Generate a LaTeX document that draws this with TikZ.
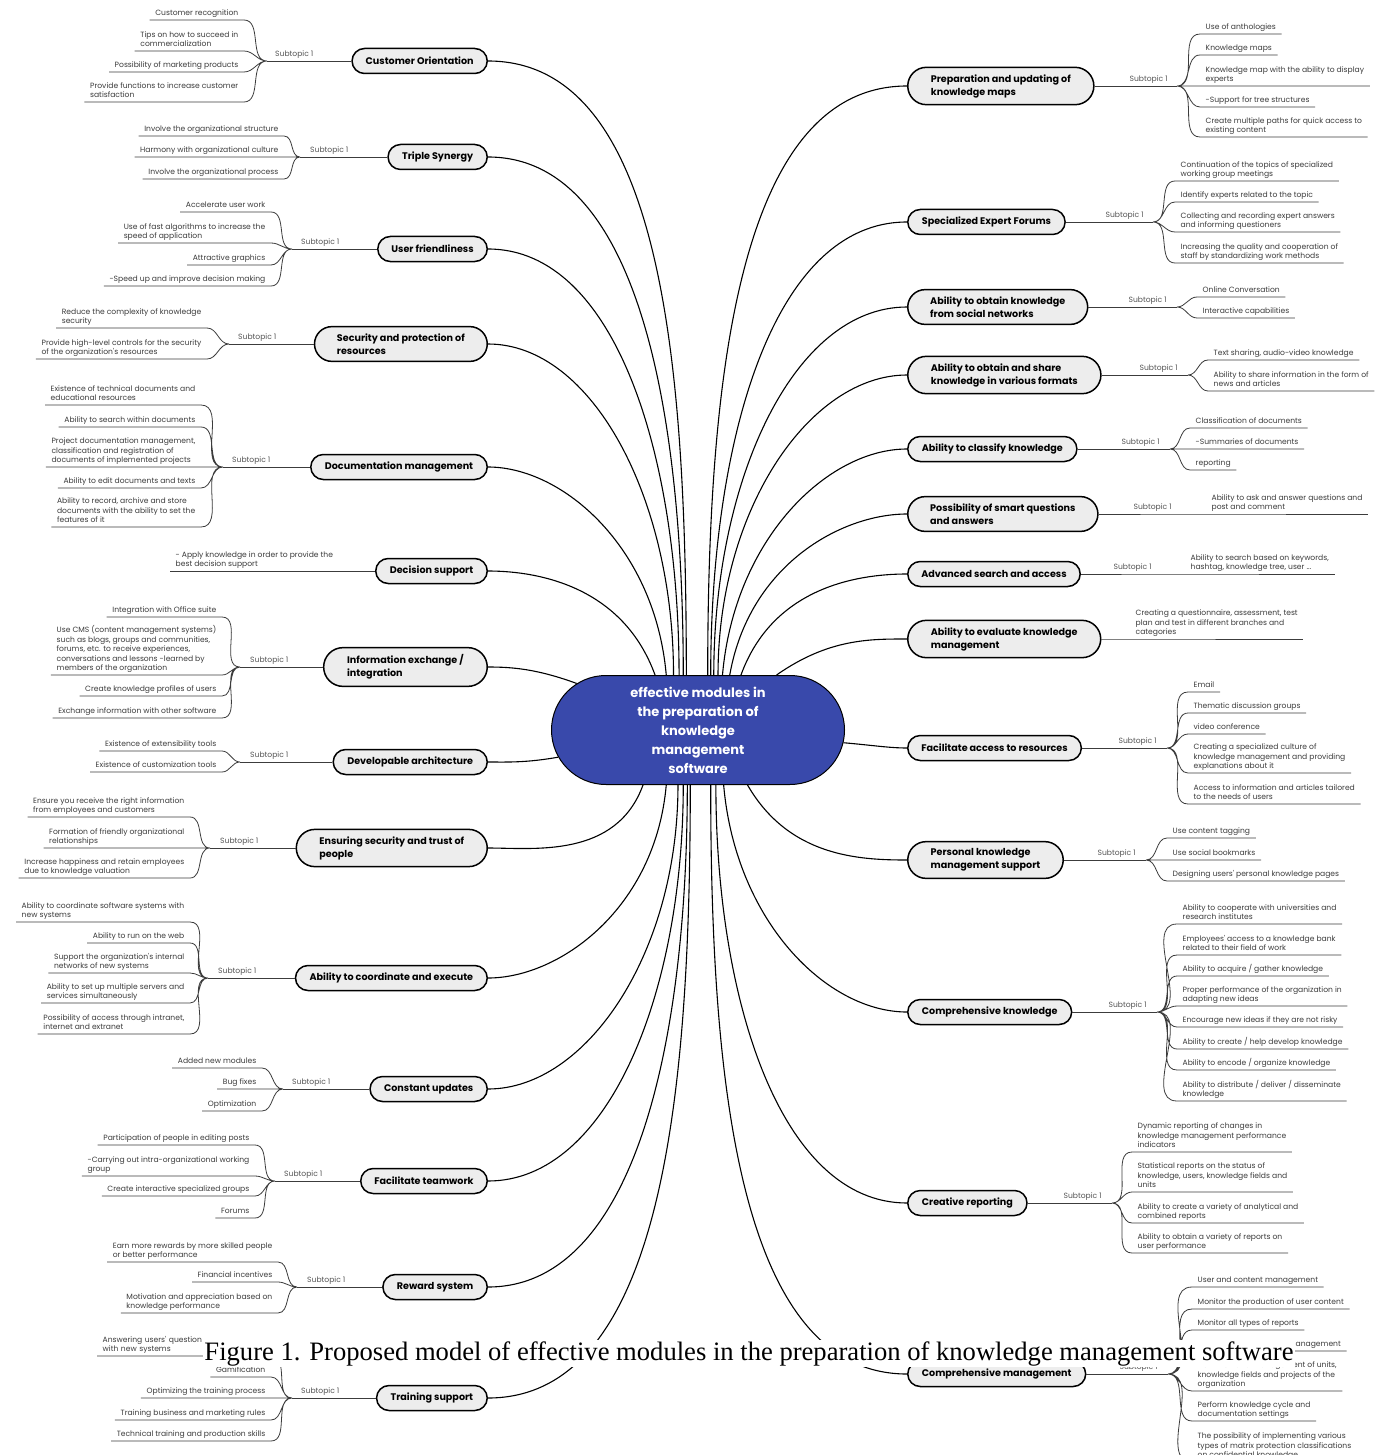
\documentclass[tikz,border=0pt]{standalone}
\usepackage{fontspec}
\usepackage{tikz}
\usetikzlibrary{positioning, shapes.misc}
\newfontfamily\mapfont{Poppins}
\newfontfamily\capfont{Liberation Serif}
\definecolor{hubblue}{HTML}{3949AB}
\definecolor{topicgray}{HTML}{EDEDED}
\definecolor{leafgray}{HTML}{3C3C3C}
\definecolor{subgray}{HTML}{555555}

\begin{document}
\begin{tikzpicture}[x=1pt, y=1pt,
    hub/.style={rounded rectangle, draw=black, line width=1pt, fill=hubblue, text=white,
                font=\mapfont\fontsize{13}{19}\selectfont\bfseries, align=center,
                minimum width=293pt, minimum height=109pt, inner xsep=0pt},
    topic/.style={rounded rectangle, draw=black, line width=1.5pt, fill=topicgray,
                  font=\mapfont\fontsize{9.6}{13}\selectfont\bfseries, align=left,
                  minimum height=25pt, inner xsep=13pt, inner ysep=7pt},
    twoline/.style={inner xsep=19pt},
    leaf/.style={font=\mapfont\fontsize{7.6}{9.4}\selectfont, text=leafgray, align=left,
                 inner xsep=5.5pt, inner ysep=1.5pt, execute at end node=\strut},
    subtag/.style={font=\mapfont\fontsize{7.6}{9.4}\selectfont, text=subgray, inner sep=1pt},
    trunk/.style={line width=1.1pt, black, out looseness=0.7, in looseness=1.2},
    twig/.style={line width=0.8pt, leafgray},
    figcap/.style={font=\capfont\fontsize{26.6}{31}\selectfont, fill=white, inner sep=1pt, anchor=base},
]
    \path[use as bounding box, fill=white] (0,0) rectangle (1391,-1455);

    % Centre
    \node[hub] (hub) at (698,-730) {effective modules in\\the preparation of\\knowledge\\management\\software};

    % Customer Orientation
    \node[topic, anchor=east] (co) at (488,-61) {Customer Orientation};
    \coordinate (cofork) at (267,-61);
    \node[subtag, above right=1.5pt and 7pt of cofork] (cosub) {Subtopic 1};
    \node[leaf, anchor=south east] (co1) at (244,-20) {Customer recognition};
    \node[leaf, anchor=south east] (co2) at (244,-51) {Tips on how to succeed in\\commercialization};
    \node[leaf, anchor=south east] (co3) at (244,-72) {Possibility of marketing products};
    \node[leaf, anchor=south east] (co4) at (244,-102) {Provide functions to increase customer\\satisfaction};
    \draw[twig] (co.west) -- (cofork);
    \draw[twig] (cofork) to[out=180,in=0] (co1.south east) -- (co1.south west)
                (cofork) to[out=180,in=0] (co2.south east) -- (co2.south west)
                (cofork) to[out=180,in=0] (co3.south east) -- (co3.south west)
                (cofork) to[out=180,in=0] (co4.south east) -- (co4.south west);

    % Triple Synergy
    \node[topic, anchor=east] (ts) at (488,-157) {Triple Synergy};
    \coordinate (tsfork) at (300,-157);
    \node[subtag, above right=1.5pt and 9pt of tsfork] (tssub) {Subtopic 1};
    \node[leaf, anchor=south east] (ts1) at (284,-136) {Involve the organizational structure};
    \node[leaf, anchor=south east] (ts2) at (284,-157) {Harmony with organizational culture};
    \node[leaf, anchor=south east] (ts3) at (284,-179) {Involve the organizational process};
    \draw[twig] (ts.west) -- (tsfork);
    \draw[twig] (tsfork) to[out=180,in=0] (ts1.south east) -- (ts1.south west)
                (tsfork) to[out=180,in=0] (ts2.south east) -- (ts2.south west)
                (tsfork) to[out=180,in=0] (ts3.south east) -- (ts3.south west);

    % User friendliness
    \node[topic, anchor=east] (uf) at (488,-249) {User friendliness};
    \coordinate (uffork) at (292,-249);
    \node[subtag, above right=1.5pt and 8pt of uffork] (ufsub) {Subtopic 1};
    \node[leaf, anchor=south east] (uf1) at (271,-212) {Accelerate user work};
    \node[leaf, anchor=south east] (uf2) at (271,-243) {Use of fast algorithms to increase the\\speed of application};
    \node[leaf, anchor=south east] (uf3) at (271,-265) {Attractive graphics};
    \node[leaf, anchor=south east] (uf4) at (271,-286) {-Speed up and improve decision making};
    \draw[twig] (uf.west) -- (uffork);
    \draw[twig] (uffork) to[out=180,in=0] (uf1.south east) -- (uf1.south west)
                (uffork) to[out=180,in=0] (uf2.south east) -- (uf2.south west)
                (uffork) to[out=180,in=0] (uf3.south east) -- (uf3.south west)
                (uffork) to[out=180,in=0] (uf4.south east) -- (uf4.south west);

    % Security and protection of resources
    \node[topic, twoline, anchor=east] (sp) at (488,-344) {Security and protection of\\resources};
    \coordinate (spfork) at (229,-344);
    \node[subtag, above right=1.5pt and 8pt of spfork] (spsub) {Subtopic 1};
    \node[leaf, anchor=south east] (sp1) at (207,-328) {Reduce the complexity of knowledge\\security};
    \node[leaf, anchor=south east] (sp2) at (207,-359) {Provide high-level controls for the security\\of the organization's resources};
    \draw[twig] (sp.west) -- (spfork);
    \draw[twig] (spfork) to[out=180,in=0] (sp1.south east) -- (sp1.south west)
                (spfork) to[out=180,in=0] (sp2.south east) -- (sp2.south west);

    % Documentation management
    \node[topic, anchor=east] (dm) at (488,-467) {Documentation management};
    \coordinate (dmfork) at (223,-467);
    \node[subtag, above right=1.5pt and 8pt of dmfork] (dmsub) {Subtopic 1};
    \node[leaf, anchor=south east] (dm1) at (201,-405) {Existence of technical documents and\\educational resources};
    \node[leaf, anchor=south east] (dm2) at (201,-427) {Ability to search within documents};
    \node[leaf, anchor=south east] (dm3) at (201,-467) {Project documentation management,\\classification and registration of\\documents of implemented projects};
    \node[leaf, anchor=south east] (dm4) at (201,-488) {Ability to edit documents and texts};
    \node[leaf, anchor=south east] (dm5) at (201,-527) {Ability to record, archive and store\\documents with the ability to set the\\features of it};
    \draw[twig] (dm.west) -- (dmfork);
    \draw[twig] (dmfork) to[out=180,in=0] (dm1.south east) -- (dm1.south west)
                (dmfork) to[out=180,in=0] (dm2.south east) -- (dm2.south west)
                (dmfork) to[out=180,in=0] (dm3.south east) -- (dm3.south west)
                (dmfork) to[out=180,in=0] (dm4.south east) -- (dm4.south west)
                (dmfork) to[out=180,in=0] (dm5.south east) -- (dm5.south west);

    % Decision support
    \node[topic, anchor=east] (ds) at (488,-571) {Decision support};
    \node[leaf, anchor=south west] (ds1) at (170,-571) {- Apply knowledge in order to provide the\\best decision support};
    \draw[twig] (ds1.south west) -- (ds.west);

    % Information exchange / integration
    \node[topic, twoline, anchor=east] (ie) at (488,-667) {Information exchange /\\integration};
    \coordinate (iefork) at (240,-667);
    \node[subtag, above right=1.5pt and 9pt of iefork] (iesub) {Subtopic 1};
    \node[leaf, anchor=south east] (ie1) at (222,-617) {Integration with Office suite};
    \node[leaf, anchor=south east] (ie2) at (222,-675) {Use CMS (content management systems)\\such as blogs, groups and communities,\\forums, etc. to receive experiences,\\conversations and lessons -learned by\\members of the organization};
    \node[leaf, anchor=south east] (ie3) at (222,-696) {Create knowledge profiles of users};
    \node[leaf, anchor=south east] (ie4) at (222,-718) {Exchange information with other software};
    \draw[twig] (ie.west) -- (iefork);
    \draw[twig] (iefork) to[out=180,in=0] (ie1.south east) -- (ie1.south west)
                (iefork) to[out=180,in=0] (ie2.south east) -- (ie2.south west)
                (iefork) to[out=180,in=0] (ie3.south east) -- (ie3.south west)
                (iefork) to[out=180,in=0] (ie4.south east) -- (ie4.south west);

    % Developable architecture
    \node[topic, anchor=east] (da) at (488,-762) {Developable architecture};
    \coordinate (dafork) at (240,-762);
    \node[subtag, above right=1.5pt and 9pt of dafork] (dasub) {Subtopic 1};
    \node[leaf, anchor=south east] (da1) at (222,-751) {Existence of extensibility tools};
    \node[leaf, anchor=south east] (da2) at (222,-772) {Existence of customization tools};
    \draw[twig] (da.west) -- (dafork);
    \draw[twig] (dafork) to[out=180,in=0] (da1.south east) -- (da1.south west)
                (dafork) to[out=180,in=0] (da2.south east) -- (da2.south west);

    % Ensuring security and trust of people
    \node[topic, twoline, anchor=east] (es) at (488,-848) {Ensuring security and trust of\\people};
    \coordinate (esfork) at (210,-848);
    \node[subtag, above right=1.5pt and 9pt of esfork] (essub) {Subtopic 1};
    \node[leaf, anchor=south east] (es1) at (190,-817) {Ensure you receive the right information\\from employees and customers};
    \node[leaf, anchor=south east] (es2) at (190,-848) {Formation of friendly organizational\\relationships};
    \node[leaf, anchor=south east] (es3) at (190,-878) {Increase happiness and retain employees\\due to knowledge valuation};
    \draw[twig] (es.west) -- (esfork);
    \draw[twig] (esfork) to[out=180,in=0] (es1.south east) -- (es1.south west)
                (esfork) to[out=180,in=0] (es2.south east) -- (es2.south west)
                (esfork) to[out=180,in=0] (es3.south east) -- (es3.south west);

    % Ability to coordinate and execute
    \node[topic, anchor=east] (ac) at (488,-978) {Ability to coordinate and execute};
    \coordinate (acfork) at (208,-978);
    \node[subtag, above right=1.5pt and 9pt of acfork] (acsub) {Subtopic 1};
    \node[leaf, anchor=south east] (ac1) at (190,-922) {Ability to coordinate software systems with\\new systems};
    \node[leaf, anchor=south east] (ac2) at (190,-943) {Ability to run on the web};
    \node[leaf, anchor=south east] (ac3) at (190,-973) {Support the organization's internal\\networks of new systems};
    \node[leaf, anchor=south east] (ac4) at (190,-1003) {Ability to set up multiple servers and\\services simultaneously};
    \node[leaf, anchor=south east] (ac5) at (190,-1034) {Possibility of access through intranet,\\internet and extranet};
    \draw[twig] (ac.west) -- (acfork);
    \draw[twig] (acfork) to[out=180,in=0] (ac1.south east) -- (ac1.south west)
                (acfork) to[out=180,in=0] (ac2.south east) -- (ac2.south west)
                (acfork) to[out=180,in=0] (ac3.south east) -- (ac3.south west)
                (acfork) to[out=180,in=0] (ac4.south east) -- (ac4.south west)
                (acfork) to[out=180,in=0] (ac5.south east) -- (ac5.south west);

    % Constant updates
    \node[topic, anchor=east] (cu) at (488,-1089) {Constant updates};
    \coordinate (cufork) at (283,-1089);
    \node[subtag, above right=1.5pt and 8pt of cufork] (cusub) {Subtopic 1};
    \node[leaf, anchor=south east] (cu1) at (262,-1068) {Added new modules};
    \node[leaf, anchor=south east] (cu2) at (262,-1089) {Bug fixes};
    \node[leaf, anchor=south east] (cu3) at (262,-1111) {Optimization};
    \draw[twig] (cu.west) -- (cufork);
    \draw[twig] (cufork) to[out=180,in=0] (cu1.south east) -- (cu1.south west)
                (cufork) to[out=180,in=0] (cu2.south east) -- (cu2.south west)
                (cufork) to[out=180,in=0] (cu3.south east) -- (cu3.south west);

    % Facilitate teamwork
    \node[topic, anchor=east] (ft) at (488,-1181) {Facilitate teamwork};
    \coordinate (ftfork) at (275,-1181);
    \node[subtag, above right=1.5pt and 8pt of ftfork] (ftsub) {Subtopic 1};
    \node[leaf, anchor=south east] (ft1) at (255,-1145) {Participation of people in editing posts};
    \node[leaf, anchor=south east] (ft2) at (255,-1176) {-Carrying out intra-organizational working\\group};
    \node[leaf, anchor=south east] (ft3) at (255,-1196) {Create interactive specialized groups};
    \node[leaf, anchor=south east] (ft4) at (255,-1218) {Forums};
    \draw[twig] (ft.west) -- (ftfork);
    \draw[twig] (ftfork) to[out=180,in=0] (ft1.south east) -- (ft1.south west)
                (ftfork) to[out=180,in=0] (ft2.south east) -- (ft2.south west)
                (ftfork) to[out=180,in=0] (ft3.south east) -- (ft3.south west)
                (ftfork) to[out=180,in=0] (ft4.south east) -- (ft4.south west);

    % Reward system
    \node[topic, anchor=east] (rs) at (488,-1287) {Reward system};
    \coordinate (rsfork) at (297,-1287);
    \node[subtag, above right=1.5pt and 9pt of rsfork] (rssub) {Subtopic 1};
    \node[leaf, anchor=south east] (rs1) at (278,-1262) {Earn more rewards by more skilled people\\or better performance};
    \node[leaf, anchor=south east] (rs2) at (278,-1282) {Financial incentives};
    \node[leaf, anchor=south east] (rs3) at (278,-1313) {Motivation and appreciation based on\\knowledge performance};
    \draw[twig] (rs.west) -- (rsfork);
    \draw[twig] (rsfork) to[out=180,in=0] (rs1.south east) -- (rs1.south west)
                (rsfork) to[out=180,in=0] (rs2.south east) -- (rs2.south west)
                (rsfork) to[out=180,in=0] (rs3.south east) -- (rs3.south west);

    % Training support
    \node[topic, anchor=east] (trs) at (488,-1398) {Training support};
    \coordinate (trsfork) at (292,-1398);
    \node[subtag, above right=1.5pt and 8pt of trsfork] (trssub) {Subtopic 1};
    \node[leaf, anchor=south west, text width=163pt] (trs1) at (97,-1356) {Answering users' question\\with new systems};
    \node[leaf, anchor=south east] (trs2) at (271,-1377) {Gamification};
    \node[leaf, anchor=south east] (trs3) at (271,-1398) {Optimizing the training process};
    \node[leaf, anchor=south east] (trs4) at (271,-1420) {Training business and marketing rules};
    \node[leaf, anchor=south east] (trs5) at (271,-1441) {Technical training and production skills};
    \draw[twig] (trs.west) -- (trsfork);
    \draw[twig] (trsfork) to[out=180,in=0] (trs1.south east) -- (trs1.south west)
                (trsfork) to[out=180,in=0] (trs2.south east) -- (trs2.south west)
                (trsfork) to[out=180,in=0] (trs3.south east) -- (trs3.south west)
                (trsfork) to[out=180,in=0] (trs4.south east) -- (trs4.south west)
                (trsfork) to[out=180,in=0] (trs5.south east) -- (trs5.south west);

    % Preparation and updating of knowledge maps
    \node[topic, twoline, anchor=west] (pu) at (907,-86) {Preparation and updating of\\knowledge maps};
    \coordinate (pufork) at (1177,-86);
    \node[subtag, above left=1.5pt and 8pt of pufork] (pusub) {Subtopic 1};
    \node[leaf, anchor=south west] (pu1) at (1200,-34) {Use of anthologies};
    \node[leaf, anchor=south west] (pu2) at (1200,-55) {Knowledge maps};
    \node[leaf, anchor=south west] (pu3) at (1200,-86) {Knowledge map with the ability to display\\experts};
    \node[leaf, anchor=south west] (pu4) at (1200,-107) {-Support for tree structures};
    \node[leaf, anchor=south west] (pu5) at (1200,-137) {Create multiple paths for quick access to\\existing content};
    \draw[twig] (pu.east) -- (pufork);
    \draw[twig] (pufork) to[out=0,in=180] (pu1.south west) -- (pu1.south east)
                (pufork) to[out=0,in=180] (pu2.south west) -- (pu2.south east)
                (pufork) to[out=0,in=180] (pu3.south west) -- (pu3.south east)
                (pufork) to[out=0,in=180] (pu4.south west) -- (pu4.south east)
                (pufork) to[out=0,in=180] (pu5.south west) -- (pu5.south east);

    % Specialized Expert Forums
    \node[topic, anchor=west] (se) at (907,-222) {Specialized Expert Forums};
    \coordinate (sefork) at (1153,-222);
    \node[subtag, above left=1.5pt and 8pt of sefork] (sesub) {Subtopic 1};
    \node[leaf, anchor=south west] (se1) at (1175,-181) {Continuation of the topics of specialized\\working group meetings};
    \node[leaf, anchor=south west] (se2) at (1175,-202) {Identify experts related to the topic};
    \node[leaf, anchor=south west] (se3) at (1175,-232) {Collecting and recording expert answers\\and informing questioners};
    \node[leaf, anchor=south west] (se4) at (1175,-263) {Increasing the quality and cooperation of\\staff by standardizing work methods};
    \draw[twig] (se.east) -- (sefork);
    \draw[twig] (sefork) to[out=0,in=180] (se1.south west) -- (se1.south east)
                (sefork) to[out=0,in=180] (se2.south west) -- (se2.south east)
                (sefork) to[out=0,in=180] (se3.south west) -- (se3.south east)
                (sefork) to[out=0,in=180] (se4.south west) -- (se4.south east);

    % Ability to obtain knowledge from social networks
    \node[topic, twoline, anchor=west] (sn) at (907,-307) {Ability to obtain knowledge\\from social networks};
    \coordinate (snfork) at (1177,-307);
    \node[subtag, above left=1.5pt and 9pt of snfork] (snsub) {Subtopic 1};
    \node[leaf, anchor=south west] (sn1) at (1197,-297) {Online Conversation};
    \node[leaf, anchor=south west] (sn2) at (1197,-318) {Interactive capabilities};
    \draw[twig] (sn.east) -- (snfork);
    \draw[twig] (snfork) to[out=0,in=180] (sn1.south west) -- (sn1.south east)
                (snfork) to[out=0,in=180] (sn2.south west) -- (sn2.south east);

    % Ability to obtain and share knowledge in various formats
    \node[topic, twoline, anchor=west] (sf) at (907,-375) {Ability to obtain and share\\knowledge in various formats};
    \coordinate (sffork) at (1188,-375);
    \node[subtag, above left=1.5pt and 9pt of sffork] (sfsub) {Subtopic 1};
    \node[leaf, anchor=south west] (sf1) at (1208,-360) {Text sharing, audio-video knowledge};
    \node[leaf, anchor=south west] (sf2) at (1208,-391) {Ability to share information in the form of\\news and articles};
    \draw[twig] (sf.east) -- (sffork);
    \draw[twig] (sffork) to[out=0,in=180] (sf1.south west) -- (sf1.south east)
                (sffork) to[out=0,in=180] (sf2.south west) -- (sf2.south east);

    % Ability to classify knowledge
    \node[topic, anchor=west] (ck) at (907,-449) {Ability to classify knowledge};
    \coordinate (ckfork) at (1170,-449);
    \node[subtag, above left=1.5pt and 9pt of ckfork] (cksub) {Subtopic 1};
    \node[leaf, anchor=south west] (ck1) at (1190,-428) {Classification of documents};
    \node[leaf, anchor=south west] (ck2) at (1190,-449) {-Summaries of documents};
    \node[leaf, anchor=south west] (ck3) at (1190,-470) {reporting};
    \draw[twig] (ck.east) -- (ckfork);
    \draw[twig] (ckfork) to[out=0,in=180] (ck1.south west) -- (ck1.south east)
                (ckfork) to[out=0,in=180] (ck2.south west) -- (ck2.south east)
                (ckfork) to[out=0,in=180] (ck3.south west) -- (ck3.south east);

    % Possibility of smart questions and answers
    \node[topic, twoline, anchor=west] (sq) at (907,-514) {Possibility of smart questions\\and answers};
    \coordinate (sqfork) at (1181,-514);
    \node[subtag, above left=1.5pt and 8pt of sqfork] (sqsub) {Subtopic 1};
    \node[leaf, anchor=south west] (sq1) at (1206,-514) {Ability to ask and answer questions and\\post and comment};
    \draw[twig] (sq.east) -- (sqfork) -- (sq1.south west) -- (sq1.south east);

    % Advanced search and access
    \node[topic, anchor=west] (as) at (907,-574) {Advanced search and access};
    \coordinate (asfork) at (1161,-574);
    \node[subtag, above left=1.5pt and 8pt of asfork] (assub) {Subtopic 1};
    \node[leaf, anchor=south west] (as1) at (1185,-574) {Ability to search based on keywords,\\hashtag, knowledge tree, user ...};
    \draw[twig] (as.east) -- (asfork) -- (as1.south west) -- (as1.south east);

    % Ability to evaluate knowledge management
    \node[topic, twoline, anchor=west] (ek) at (907,-639) {Ability to evaluate knowledge\\management};
    \node[leaf, anchor=south west] (ek1) at (1130,-639) {Creating a questionnaire, assessment, test\\plan and test in different branches and\\categories};
    \draw[twig] (ek.east) -- (ek1.south west) -- (ek1.south east);

    % Facilitate access to resources
    \node[topic, anchor=west] (fa) at (907,-748) {Facilitate access to resources};
    \coordinate (fafork) at (1167,-748);
    \node[subtag, above left=1.5pt and 9pt of fafork] (fasub) {Subtopic 1};
    \node[leaf, anchor=south west] (fa1) at (1188,-692) {Email};
    \node[leaf, anchor=south west] (fa2) at (1188,-713) {Thematic discussion groups};
    \node[leaf, anchor=south west] (fa3) at (1188,-734) {video conference};
    \node[leaf, anchor=south west] (fa4) at (1188,-773) {Creating a specialized culture of\\knowledge management and providing\\explanations about it};
    \node[leaf, anchor=south west] (fa5) at (1188,-804) {Access to information and articles tailored\\to the needs of users};
    \draw[twig] (fa.east) -- (fafork);
    \draw[twig] (fafork) to[out=0,in=180] (fa1.south west) -- (fa1.south east)
                (fafork) to[out=0,in=180] (fa2.south west) -- (fa2.south east)
                (fafork) to[out=0,in=180] (fa3.south west) -- (fa3.south east)
                (fafork) to[out=0,in=180] (fa4.south west) -- (fa4.south east)
                (fafork) to[out=0,in=180] (fa5.south west) -- (fa5.south east);

    % Personal knowledge management support
    \node[topic, twoline, anchor=west] (pk) at (907,-860) {Personal knowledge\\management support};
    \coordinate (pkfork) at (1146,-860);
    \node[subtag, above left=1.5pt and 9pt of pkfork] (pksub) {Subtopic 1};
    \node[leaf, anchor=south west] (pk1) at (1167,-838) {Use content tagging};
    \node[leaf, anchor=south west] (pk2) at (1167,-860) {Use social bookmarks};
    \node[leaf, anchor=south west] (pk3) at (1167,-881) {Designing users' personal knowledge pages};
    \draw[twig] (pk.east) -- (pkfork);
    \draw[twig] (pkfork) to[out=0,in=180] (pk1.south west) -- (pk1.south east)
                (pkfork) to[out=0,in=180] (pk2.south west) -- (pk2.south east)
                (pkfork) to[out=0,in=180] (pk3.south west) -- (pk3.south east);

    % Comprehensive knowledge
    \node[topic, anchor=west] (kn) at (907,-1012) {Comprehensive knowledge};
    \coordinate (knfork) at (1157,-1012);
    \node[subtag, above left=1.5pt and 9pt of knfork] (knsub) {Subtopic 1};
    \node[leaf, anchor=south west] (kn1) at (1177,-924) {Ability to cooperate with universities and\\research institutes};
    \node[leaf, anchor=south west] (kn2) at (1177,-955) {Employees' access to a knowledge bank\\related to their field of work};
    \node[leaf, anchor=south west] (kn3) at (1177,-976) {Ability to acquire / gather knowledge};
    \node[leaf, anchor=south west] (kn4) at (1177,-1006) {Proper performance of the organization in\\adapting new ideas};
    \node[leaf, anchor=south west] (kn5) at (1177,-1027) {Encourage new ideas if they are not risky};
    \node[leaf, anchor=south west] (kn6) at (1177,-1049) {Ability to create / help develop knowledge};
    \node[leaf, anchor=south west] (kn7) at (1177,-1070) {Ability to encode / organize knowledge};
    \node[leaf, anchor=south west] (kn8) at (1177,-1101) {Ability to distribute / deliver / disseminate\\knowledge};
    \draw[twig] (kn.east) -- (knfork);
    \draw[twig] (knfork) to[out=0,in=180] (kn1.south west) -- (kn1.south east)
                (knfork) to[out=0,in=180] (kn2.south west) -- (kn2.south east)
                (knfork) to[out=0,in=180] (kn3.south west) -- (kn3.south east)
                (knfork) to[out=0,in=180] (kn4.south west) -- (kn4.south east)
                (knfork) to[out=0,in=180] (kn5.south west) -- (kn5.south east)
                (knfork) to[out=0,in=180] (kn6.south west) -- (kn6.south east)
                (knfork) to[out=0,in=180] (kn7.south west) -- (kn7.south east)
                (knfork) to[out=0,in=180] (kn8.south west) -- (kn8.south east);

    % Creative reporting
    \node[topic, anchor=west] (cr) at (907,-1203) {Creative reporting};
    \coordinate (crfork) at (1112,-1203);
    \node[subtag, above left=1.5pt and 9pt of crfork] (crsub) {Subtopic 1};
    \node[leaf, anchor=south west] (cr1) at (1132,-1152) {Dynamic reporting of changes in\\knowledge management performance\\indicators};
    \node[leaf, anchor=south west] (cr2) at (1132,-1192) {Statistical reports on the status of\\knowledge, users, knowledge fields and\\units};
    \node[leaf, anchor=south west] (cr3) at (1132,-1223) {Ability to create a variety of analytical and\\combined reports};
    \node[leaf, anchor=south west] (cr4) at (1132,-1253) {Ability to obtain a variety of reports on\\user performance};
    \draw[twig] (cr.east) -- (crfork);
    \draw[twig] (crfork) to[out=0,in=180] (cr1.south west) -- (cr1.south east)
                (crfork) to[out=0,in=180] (cr2.south west) -- (cr2.south east)
                (crfork) to[out=0,in=180] (cr3.south west) -- (cr3.south east)
                (crfork) to[out=0,in=180] (cr4.south west) -- (cr4.south east);

    % Comprehensive management
    \node[topic, anchor=west] (cm) at (907,-1374) {Comprehensive management};
    \coordinate (cmfork) at (1168,-1374);
    \node[subtag, above left=1.5pt and 9pt of cmfork] (cmsub) {Subtopic 1};
    \node[leaf, anchor=south west] (cm1) at (1192,-1287) {User and content management};
    \node[leaf, anchor=south west] (cm2) at (1192,-1309) {Monitor the production of user content};
    \node[leaf, anchor=south west] (cm3) at (1192,-1330) {Monitor all types of reports};
    \node[leaf, anchor=south west] (cm4) at (1192,-1351) {Access and permission management};
    \node[leaf, anchor=south west] (cm5) at (1192,-1391) {Definition and management of units,\\knowledge fields and projects of the\\organization};
    \node[leaf, anchor=south west] (cm6) at (1192,-1421) {Perform knowledge cycle and\\documentation settings};
    \node[leaf, anchor=south west] (cm7) at (1192,-1462) {The possibility of implementing various\\types of matrix protection classifications\\on confidential knowledge};
    \draw[twig] (cm.east) -- (cmfork);
    \draw[twig] (cmfork) to[out=0,in=180] (cm1.south west) -- (cm1.south east)
                (cmfork) to[out=0,in=180] (cm2.south west) -- (cm2.south east)
                (cmfork) to[out=0,in=180] (cm3.south west) -- (cm3.south east)
                (cmfork) to[out=0,in=180] (cm4.south west) -- (cm4.south east)
                (cmfork) to[out=0,in=180] (cm5.south west) -- (cm5.south east)
                (cmfork) to[out=0,in=180] (cm6.south west) -- (cm6.south east)
                (cmfork) to[out=0,in=180] (cm7.south west) -- (cm7.south east);

    % Main branches, left
    \draw[trunk] (co.east) to[out=0,in=90] (hub.102);
    \draw[trunk] (ts.east) to[out=0,in=90] (hub.105);
    \draw[trunk] (uf.east) to[out=0,in=90] (hub.109);
    \draw[trunk] (sp.east) to[out=0,in=90] (hub.114);
    \draw[trunk] (dm.east) to[out=0,in=95] (hub.120);
    \draw[trunk] (ds.east) to[out=0,in=110] (hub.128);
    \draw[trunk] (ie.east) to[out=0,in=160] (hub.159);
    \draw[trunk] (da.east) to[out=0,in=190] (hub.191);
    \draw[trunk] (es.east) to[out=0,in=-110] (hub.225);
    \draw[trunk] (ac.east) to[out=0,in=-95] (hub.240);
    \draw[trunk] (cu.east) to[out=0,in=-90] (hub.250);
    \draw[trunk] (ft.east) to[out=0,in=-90] (hub.255);
    \draw[trunk] (rs.east) to[out=0,in=-90] (hub.259);
    \draw[trunk] (trs.east) to[out=0,in=-90] (hub.262);

    % Main branches, right
    \draw[trunk] (pu.west) to[out=180,in=90] (hub.80);
    \draw[trunk] (se.west) to[out=180,in=90] (hub.77);
    \draw[trunk] (sn.west) to[out=180,in=90] (hub.74);
    \draw[trunk] (sf.west) to[out=180,in=90] (hub.70);
    \draw[trunk] (ck.west) to[out=180,in=85] (hub.66);
    \draw[trunk] (sq.west) to[out=180,in=80] (hub.60);
    \draw[trunk] (as.west) to[out=180,in=70] (hub.52);
    \draw[trunk] (ek.west) to[out=180,in=35] (hub.35);
    \draw[trunk] (fa.west) to[out=180,in=-5] (hub.-5);
    \draw[trunk] (pk.west) to[out=180,in=-60] (hub.-48);
    \draw[trunk] (kn.west) to[out=180,in=-85] (hub.-65);
    \draw[trunk] (cr.west) to[out=180,in=-90] (hub.-72);
    \draw[trunk] (cm.west) to[out=180,in=-90] (hub.-77);

    % Caption
    \node[figcap] (cap) at (749,-1360) {Figure 1. Proposed model of effective modules in the preparation of knowledge management software};
\end{tikzpicture}
\end{document}
